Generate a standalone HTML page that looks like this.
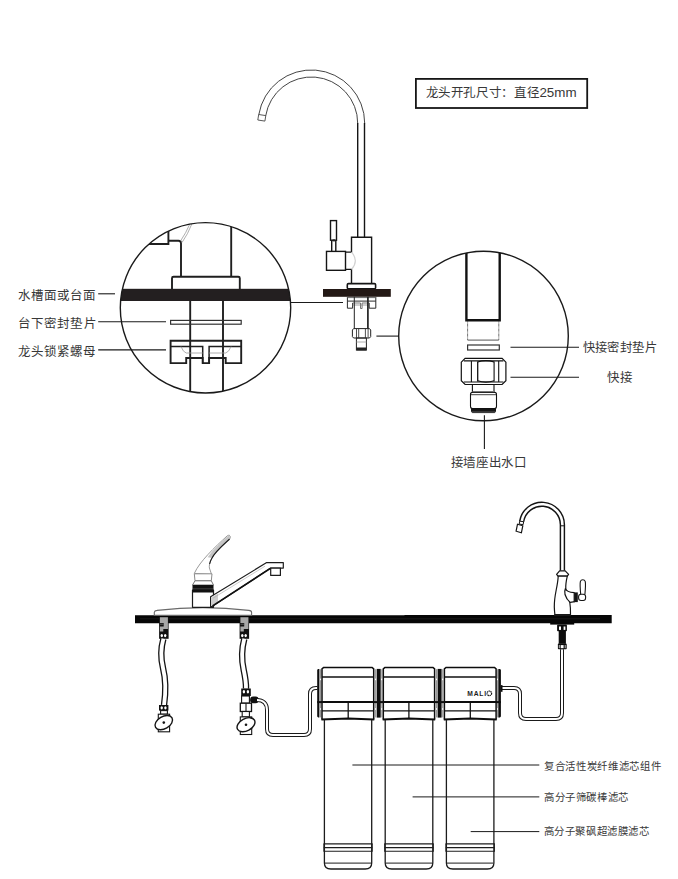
<!DOCTYPE html>
<html lang="zh-CN"><head><meta charset="utf-8">
<style>
html,body{margin:0;padding:0;background:#fff;}
body{width:678px;height:879px;overflow:hidden;position:relative;font-family:"Liberation Sans",sans-serif;}
svg{position:absolute;left:0;top:0;}
.t{font-family:"Liberation Sans",sans-serif;fill:#383838;}
</style></head><body>
<svg width="678" height="879" viewBox="0 0 678 879">
<rect x="0" y="0" width="678" height="879" fill="#fff"/>

<!-- ===== TOP: info box ===== -->
<rect x="415.9" y="78.9" width="171.3" height="29.1" fill="none" stroke="#161616" stroke-width="1.8"/>
<text class="t" x="425.6" y="97.3" font-size="12.5" textLength="114" lengthAdjust="spacing">龙头开孔尺寸：直径</text><text class="t" x="539.4" y="97.1" font-size="13.4">25mm</text>

<!-- ===== TOP: small faucet ===== -->
<g fill="none" stroke="#3a3a3a" stroke-width="0.95">
  <path d="M258.81,114.6 A53.3,53.3 0 0 1 364.7,123.3"/>
  <path d="M265.72,115.74 A46.3,46.3 0 0 1 357.7,123.3"/>
  <path d="M258.7,114.5 L265.8,115.6 L264.9,121.1 L257.8,120 Z" stroke-width="0.85"/>
</g>
<g fill="none" stroke="#151515" stroke-width="1.4">
  <line x1="357.7" y1="123" x2="357.7" y2="237.3"/>
  <line x1="364.5" y1="123" x2="364.5" y2="237.3"/>
  <path d="M345.6,252.1 H351.5 V237.3 H371.6 V283.5 M345.6,269.4 H351.5 V283.5"/>
  <rect x="330.5" y="220.6" width="6" height="19.6"/>
  <line x1="331.7" y1="240.2" x2="331.7" y2="251.4"/>
  <line x1="335.8" y1="240.2" x2="335.8" y2="251.4"/>
  <rect x="326.5" y="251.4" width="19" height="18.9"/>
  <rect x="347.3" y="283.6" width="28.3" height="5.3" rx="1.2" stroke-width="1.6"/>
</g>
<path d="M351.5,252.1 Q359.2,260.8 351.5,269.4" fill="none" stroke="#d2d2d2" stroke-width="1.2"/>
<line x1="332.6" y1="240.4" x2="335" y2="240.4" stroke="#222" stroke-width="2"/>
<rect x="323" y="289" width="67.8" height="7.8" fill="#231815"/>
<!-- below counter -->
<g fill="none" stroke="#2a2a2a" stroke-width="1">
  <path d="M347.4,297 V308.2 H352.6 V303 M375.8,297 V308.2 H369.2 V303"/>
  <line x1="347.4" y1="297.6" x2="375.8" y2="297.6" stroke="#666"/>
  <line x1="347.4" y1="301.1" x2="375.8" y2="301.1"/>
  <path d="M352.6,303 H360.5 V308.5 H362.1 V303 H369.2" stroke="#666" stroke-width="0.9"/>
  <line x1="352.6" y1="305" x2="369.2" y2="305" stroke="#888" stroke-width="0.8"/>
</g>
<g fill="none" stroke="#222" stroke-width="1">
    <line x1="354.3" y1="296.8" x2="354.3" y2="328.6"/>
  <line x1="367.9" y1="296.8" x2="367.9" y2="328.6" stroke-width="1.7"/>
  <path d="M353.6,328.6 H369.5 L370.7,330 V336.6 L369.5,338 H353.6 L352.4,336.6 V330 Z"/>
  <line x1="356.5" y1="328.8" x2="356.5" y2="337.8" stroke-width="0.8"/>
  <line x1="358.7" y1="328.8" x2="358.7" y2="337.8" stroke-width="0.8"/>
  <line x1="365.4" y1="328.8" x2="365.4" y2="337.8" stroke-width="0.8"/>
  <line x1="368.1" y1="328.8" x2="368.1" y2="337.8" stroke-width="0.8"/>
  <rect x="356.4" y="338" width="10" height="12"/>
  <line x1="356.4" y1="342" x2="366.4" y2="342" stroke="#999" stroke-width="0.8"/>
</g>
<rect x="356.4" y="347.5" width="10" height="3" fill="#222"/>

<!-- ===== LEFT CIRCLE ===== -->
<defs>
  <clipPath id="cl"><circle cx="205.5" cy="307.8" r="85.2"/></clipPath>
  <clipPath id="cr"><circle cx="483.5" cy="336" r="84.8"/></clipPath>
</defs>
<g clip-path="url(#cl)">
  <rect x="110" y="288.8" width="190" height="12.2" fill="#231f20"/>
  <g fill="none" stroke="#1f1f1f" stroke-width="1.9">
    <path d="M140,244 H168.4 V220"/>
    <path d="M168.4,240.8 H178.5 Q181,240.8 181,243.3 V276.8"/>
    <line x1="231.2" y1="215" x2="231.2" y2="276.8"/>
    <path d="M172,289 V278.3 Q172,276.8 173.5,276.8 H238.3 Q239.8,276.8 239.8,278.3 V289"/>
    <line x1="190.2" y1="301" x2="190.2" y2="400"/>
    <line x1="223" y1="301" x2="223" y2="400"/>
    <path d="M170.6,340.8 H241.2 V363.1 H225.7 V358 H209.1 V363.1 H202.7 V358 H186.2 V363.1 H170.6 Z"/>
    <path d="M170.6,346.5 H202.7 V363 M209.1,363 V346.5 H241.2" stroke-width="1.5"/>
  </g>
  <rect x="170.6" y="320.4" width="70.6" height="3.8" fill="none" stroke="#333" stroke-width="1.2"/>
  <g fill="none" stroke="#9a9a9a" stroke-width="0.8">
    <path d="M180.5,241 Q186,233 189.8,224"/>
    <path d="M182,242.5 Q188,234 191.8,224"/>
    <path d="M181,346.5 Q183,352 186.2,353 H202.7 M209.1,353 H225.7 Q229,352 231,346.5"/>
  </g>
</g>
<circle cx="205.5" cy="307.8" r="85.2" fill="none" stroke="#1a1a1a" stroke-width="1.4"/>

<!-- ===== RIGHT CIRCLE ===== -->
<g clip-path="url(#cr)">
  <g fill="none" stroke="#111" stroke-width="2.4">
    <path d="M466.4,240 V320.3 H499.7 V240"/>
  </g>
  <g fill="none" stroke="#333" stroke-width="1" stroke-dasharray="0.7 0.55">
    <line x1="467.6" y1="321.5" x2="467.6" y2="340"/>
    <line x1="498.8" y1="321.5" x2="498.8" y2="340"/>
  </g>
  <line x1="467.6" y1="340.1" x2="498.8" y2="340.1" stroke="#444" stroke-width="0.9"/>
  <rect x="467.6" y="345" width="31.7" height="5" fill="none" stroke="#333" stroke-width="1.2"/>
  <g fill="none" stroke="#111" stroke-width="1.1">
    <path d="M465.1,358.4 H502.1 L505.9,362.2 V380.7 L502.1,384.5 H465.1 L461.3,380.7 V362.2 Z" stroke-width="1.2"/>
    <line x1="463.8" y1="360.9" x2="503.4" y2="360.9"/>
    <line x1="463.8" y1="382" x2="503.4" y2="382"/>
    <line x1="471.4" y1="360.9" x2="471.4" y2="382"/>
    <line x1="477.7" y1="361.5" x2="477.7" y2="381.4" stroke-width="1.3"/>
    <line x1="494.1" y1="361.5" x2="494.1" y2="381.4"/>
    <line x1="498.7" y1="360.9" x2="498.7" y2="382"/>
    <path d="M477.7,362 Q485.9,359.3 494.1,362 M477.7,380.8 Q485.9,383.5 494.1,380.8"/>
    <line x1="472.4" y1="384.5" x2="472.4" y2="392"/>
    <line x1="494" y1="384.5" x2="494" y2="392"/>
    <rect x="470.5" y="392.4" width="26" height="16.2" rx="2"/>
    <line x1="471" y1="394.7" x2="496" y2="394.7" stroke-width="0.8"/>
    <path d="M472.2,412.6 L471.4,411.4 H495.6 L494.8,412.6 Z" stroke-width="0.9"/>
  </g>
  <rect x="472.5" y="391" width="22" height="1.2" fill="#777"/>
  <rect x="471" y="408.8" width="25" height="2.4" fill="#151515"/>
</g>
<circle cx="483.5" cy="336" r="84.8" fill="none" stroke="#1a1a1a" stroke-width="1.4"/>

<!-- ===== callout lines top ===== -->
<g stroke="#1a1a1a" stroke-width="1.1">
  <line x1="98.2" y1="293.8" x2="115" y2="293.8"/>
  <line x1="98.2" y1="321.8" x2="166" y2="321.8"/>
  <line x1="98.2" y1="349.9" x2="166" y2="349.9"/>
  <line x1="290.5" y1="302.5" x2="343" y2="302.5"/>
  <line x1="376.4" y1="336.1" x2="398.7" y2="336.1"/>
  <line x1="510.5" y1="347.2" x2="579" y2="347.2"/>
  <line x1="510.5" y1="377.3" x2="579" y2="377.3"/>
  <line x1="484.4" y1="415.2" x2="484.4" y2="449"/>
</g>

<!-- ===== TOP labels ===== -->
<g class="t" font-size="12.5" lengthAdjust="spacing">
  <text x="17.8" y="299.7" textLength="78.6">水槽面或台面</text>
  <text x="17.8" y="327.8" textLength="78.8">台下密封垫片</text>
  <text x="17.8" y="356.2" textLength="78.6">龙头锁紧螺母</text>
  <text x="582.7" y="352.3" font-size="12.3" textLength="73.8">快接密封垫片</text>
  <text x="607" y="382.2" textLength="25.6">快接</text>
  <text x="450.5" y="467.1" textLength="76.6">接墙座出水口</text>
</g>

<!-- BOTTOM_PLACEHOLDER -->
<!-- ===== BOTTOM: counter ===== -->
<path d="M135,615.3 H404 L405,615 H611.7 V623.2 H135 Z" fill="#060606"/>
<line x1="140" y1="618.8" x2="600" y2="618.8" stroke="#4a4a4a" stroke-width="0.5" opacity="0.6"/>

<!-- ===== sink faucet ===== -->
<path d="M154.3,615.3 V612.2 Q154.5,610.6 157,610.4 Q203,604.8 248.8,610.4 Q251.6,610.7 251.6,612.4 V615.3 Z" fill="#fff" stroke="#6a6a6a" stroke-width="1.1"/>
<g stroke="#1c1c1c" stroke-width="1.2" fill="#fff" stroke-linejoin="round">
  <rect x="192.5" y="590" width="21" height="17.3"/>
</g>
<g stroke-linejoin="round">
  <path d="M194.3,573.4 C200,561 214,548 227.6,535.5 Q229.5,534.3 230.3,536.5 Q230.5,538 229.6,539 C222,546 215,552 212,558 C209.5,562.5 209,566 209.4,568 L211.6,574.5 Z" fill="#fff" stroke="#9a9a9a" stroke-width="1"/>
  <path d="M228.6,535.3 Q230.6,535.6 229.6,539 C222,546 215,552 212,558 L207.6,557.2 C213,550 220,543 228.6,535.3 Z" fill="#c4c4c4"/>
  <path d="M229.6,539 C222,546 215,552 212,558 C210.8,560 210,562 209.6,564" fill="none" stroke="#1c1c1c" stroke-width="1.1"/>
  <path d="M196.5,574.8 Q203.5,578.2 210.5,574.8" fill="none" stroke="#a8a8a8" stroke-width="0.9"/>
  <path d="M194.3,573.8 H212 L211.3,580.8 H195 Z" fill="#fff" stroke="#8a8a8a" stroke-width="1"/>
  <path d="M195,580.8 H211.3 L213.5,585 H192.5 Z" fill="#fff" stroke="#777" stroke-width="1"/>
</g>
<rect x="192.5" y="585" width="21" height="7.5" fill="#111"/>
<line x1="193" y1="588.8" x2="213" y2="588.8" stroke="#555" stroke-width="0.7"/>
<g stroke="#1c1c1c" stroke-width="1.2" fill="#fff" stroke-linejoin="round">
  <path d="M210.6,606.6 L210.6,596.7 L266.7,562.6 H283.3 V568.1 H270.5 L212.2,606.6 Z"/>
  <rect x="270.7" y="568.1" width="9.7" height="7.3"/>
</g>
<path d="M211.5,597.5 L218,593.5 L218,602 L211.5,606 Z" fill="#cfcfcf"/>
<line x1="212.5" y1="605.8" x2="270.5" y2="568.3" stroke="#111" stroke-width="1.6"/>
<line x1="213" y1="598.2" x2="265" y2="566.2" stroke="#aaa" stroke-width="0.6"/>

<!-- supply connectors -->
<g>
  <rect x="159.1" y="616.9" width="9.5" height="21.9" fill="#111"/>
  <path d="M159.9,617.3 H167.9 V628.9 H163.3 V631.5 H159.9 V626.6 H163.7 V623 H159.9 Z" fill="#a8a8a8"/>
  <line x1="160" y1="624.2" x2="163.5" y2="624.2" stroke="#aaa" stroke-width="0.5"/>
  <ellipse cx="161.8" cy="635.6" rx="1.2" ry="1.7" fill="#fff"/>
  <ellipse cx="165.2" cy="635.6" rx="1.2" ry="1.7" fill="#fff"/>

  <rect x="239.6" y="616.9" width="9.5" height="21.9" fill="#111"/>
  <path d="M240.4,617.3 H248.4 V628.9 H243.8 V631.5 H240.4 V626.6 H244.2 V623 H240.4 Z" fill="#a8a8a8"/>
  <line x1="240.5" y1="624.2" x2="244" y2="624.2" stroke="#aaa" stroke-width="0.5"/>
  <ellipse cx="242.3" cy="635.6" rx="1.2" ry="1.7" fill="#fff"/>
  <ellipse cx="245.7" cy="635.6" rx="1.2" ry="1.7" fill="#fff"/>
</g>
<!-- hoses -->
<g fill="none" stroke-linecap="butt">
  <path d="M163.4,638.8 C160.2,650 160.6,658 163,668 C165.5,678 166.2,690 164,705.2" stroke="#141414" stroke-width="6.4"/>
  <path d="M163.4,638.8 C160.2,650 160.6,658 163,668 C165.5,678 166.2,690 164,705.2" stroke="#fff" stroke-width="3.8"/>
  <path d="M244.3,638.8 C241.3,650 241.5,660 243.7,670 C245.4,678 246.2,683 246,688.6" stroke="#141414" stroke-width="6.4"/>
  <path d="M244.3,638.8 C241.3,650 241.5,660 243.7,670 C245.4,678 246.2,683 246,688.6" stroke="#fff" stroke-width="3.8"/>
</g>
<!-- lower nuts + valves -->
<rect x="159" y="705" width="9.4" height="5.6" fill="#111"/>
<ellipse cx="161.7" cy="707.8" rx="1.2" ry="1.6" fill="#fff"/>
<ellipse cx="165.4" cy="707.8" rx="1.2" ry="1.6" fill="#fff"/>
<rect x="241.2" y="688.5" width="9.6" height="7.5" fill="#111"/>
<ellipse cx="243.9" cy="691.8" rx="1.2" ry="1.7" fill="#fff"/>
<ellipse cx="247.9" cy="691.8" rx="1.2" ry="1.7" fill="#fff"/>
<g stroke="#141414" stroke-width="1.1" fill="#fff">
  <rect x="160.6" y="710.6" width="6.8" height="3.6"/>
  <rect x="158.3" y="714.2" width="11.3" height="17.6"/>
  <ellipse cx="163.8" cy="722.6" rx="9.5" ry="6.1" transform="rotate(-30 163.8 722.6)" stroke-width="1.4"/>

  <rect x="241.6" y="696" width="7.8" height="7.2"/>
  <rect x="240.3" y="703.2" width="11.2" height="8.3" stroke-width="1.3"/>
  <line x1="246" y1="703.2" x2="246" y2="711.5" stroke-width="1.1"/>
  <rect x="242.2" y="711.5" width="7.2" height="5.4"/>
  <rect x="240.3" y="716.9" width="11.4" height="17.6"/>
  <ellipse cx="246" cy="724.7" rx="9.6" ry="6.1" transform="rotate(-28 246 724.7)" stroke-width="1.4"/>
</g>
<circle cx="163.8" cy="722.6" r="1.3" fill="#141414"/>
<circle cx="246" cy="724.7" r="1.3" fill="#141414"/>
<rect x="250.1" y="696.4" width="8.5" height="6.8" rx="3" fill="#111"/>
<!-- tube left -->
<path d="M257,700 C263,700 267,703.5 267,710 V729 Q267,735 273,735 H304 Q310,735 310,729 V694 Q310,688 316,688 H317.5" fill="none" stroke="#1a1a1a" stroke-width="4"/>
<path d="M257,700 C263,700 267,703.5 267,710 V729 Q267,735 273,735 H304 Q310,735 310,729 V694 Q310,688 316,688 H317.5" fill="none" stroke="#fff" stroke-width="2"/>
<!-- tube right -->
<path d="M500.5,688 H514 Q520,688 520,694 V713 Q520,719 526,719 H556 Q562,719 562,713 V649.2" fill="none" stroke="#1a1a1a" stroke-width="4"/>
<path d="M500.5,688 H514 Q520,688 520,694 V713 Q520,719 526,719 H556 Q562,719 562,713 V649.2" fill="none" stroke="#fff" stroke-width="2"/>

<!-- ===== filter heads ===== -->
<g id="heads">
<path d="M317.2,669.8 L318.2,668.9 H319.4 V717.6 H318.2 L317.2,716.6 Z" fill="#0d0d0d"/>
<rect x="376.7" y="668.9" width="4" height="48.7" fill="#0d0d0d"/>
<rect x="437.6" y="668.9" width="4" height="48.7" fill="#0d0d0d"/>
<path d="M498.3,668.9 H499.9 L500.9,669.8 V716.6 L499.9,717.6 H498.3 Z" fill="#0d0d0d"/>
<rect x="500.8" y="685.1" width="1.7" height="6.7" fill="#0d0d0d"/>
<g fill="none" stroke="#6a6a6a" stroke-width="0.7">
<path d="M320.5,669.2 V678.6 M320.5,680.2 V708.2 M320.5,709.8 V717.4"/>
<path d="M375.6,669.2 V678.6 M375.6,680.2 V708.2 M375.6,709.8 V717.4"/>
<path d="M381.8,669.2 V678.6 M381.8,680.2 V708.2 M381.8,709.8 V717.4"/>
<path d="M436.5,669.2 V678.6 M436.5,680.2 V708.2 M436.5,709.8 V717.4"/>
<path d="M442.7,669.2 V678.6 M442.7,680.2 V708.2 M442.7,709.8 V717.4"/>
<path d="M497.6,669.2 V678.6 M497.6,680.2 V708.2 M497.6,709.8 V717.4"/>
</g>
<g fill="none" stroke="#0d0d0d" stroke-width="1.5">
<path d="M322,719.5 V668.9 L323.6,667.4 H372.09999999999997 L373.7,668.9 V719.5"/>
<path d="M383.3,719.5 V668.9 L384.90000000000003,667.4 H433.0 L434.6,668.9 V719.5"/>
<path d="M444.4,719.5 V668.9 L446.0,667.4 H494.5 L496.1,668.9 V719.5"/>
</g>
<g stroke="#111" stroke-width="1.3">
<line x1="322" y1="677" x2="373.7" y2="677"/>
<line x1="322" y1="710.9" x2="373.7" y2="710.9"/>
<line x1="348.2" y1="702.1" x2="348.2" y2="719"/>
<line x1="383.3" y1="677" x2="434.6" y2="677"/>
<line x1="383.3" y1="710.9" x2="434.6" y2="710.9"/>
<line x1="408.9" y1="702.1" x2="408.9" y2="719"/>
<line x1="444.4" y1="677" x2="496.1" y2="677"/>
<line x1="444.4" y1="710.9" x2="496.1" y2="710.9"/>
<line x1="470.3" y1="702.1" x2="470.3" y2="719"/>
</g>
<g stroke="#0d0d0d" stroke-width="2" fill="none">
<line x1="321.4" y1="702.1" x2="374.3" y2="702.1"/>
<path d="M321.4,719.6 L348.2,718.6 L374.3,719.6"/>
<line x1="382.7" y1="702.1" x2="435.20000000000005" y2="702.1"/>
<path d="M382.7,719.6 L408.9,718.6 L435.20000000000005,719.6"/>
<line x1="443.79999999999995" y1="702.1" x2="496.70000000000005" y2="702.1"/>
<path d="M443.79999999999995,719.6 L470.3,718.6 L496.70000000000005,719.6"/>
<line x1="317.2" y1="702.1" x2="322" y2="702.1"/><line x1="373.7" y1="702.1" x2="383.3" y2="702.1"/><line x1="434.6" y1="702.1" x2="444.4" y2="702.1"/><line x1="496.1" y1="702.1" x2="500.9" y2="702.1"/>
</g>
<text x="467.2" y="695.9" font-family="Liberation Sans, sans-serif" font-weight="bold" font-size="6.7" fill="#1c1c1c" textLength="19" lengthAdjust="spacing">MALI</text>
<circle cx="489.3" cy="693.4" r="2.3" fill="none" stroke="#1c1c1c" stroke-width="1.2" stroke-dasharray="1.3 0.5"/>
</g>

<!-- ===== canisters ===== -->
<g fill="none" stroke="#1c1c1c" stroke-width="1.3">
<path d="M324.4,720 V863 Q324.4,869 330.9,869 H365.2 Q371.7,869 371.7,863 V720"/>
<path d="M385.2,720 V863 Q385.2,869 391.7,869 H426.3 Q432.8,869 432.8,863 V720"/>
<path d="M446.4,720 V863 Q446.4,869 452.9,869 H487.4 Q493.9,869 493.9,863 V720"/>
</g>
<g stroke="#1c1c1c" stroke-width="1.1">
<line x1="323.79999999999995" y1="843.9" x2="372.3" y2="843.9"/>
<line x1="323.79999999999995" y1="847.6" x2="372.3" y2="847.6" stroke-width="1.4"/>
<line x1="323.79999999999995" y1="851.2" x2="372.3" y2="851.2"/>
<line x1="325.0" y1="863.1" x2="371.09999999999997" y2="863.1" stroke-width="1"/>
<line x1="323.9" y1="843.5" x2="323.9" y2="851.6" stroke-width="1"/>
<line x1="372.2" y1="843.5" x2="372.2" y2="851.6" stroke-width="1"/>
<line x1="384.59999999999997" y1="843.9" x2="433.40000000000003" y2="843.9"/>
<line x1="384.59999999999997" y1="847.6" x2="433.40000000000003" y2="847.6" stroke-width="1.4"/>
<line x1="384.59999999999997" y1="851.2" x2="433.40000000000003" y2="851.2"/>
<line x1="385.8" y1="863.1" x2="432.2" y2="863.1" stroke-width="1"/>
<line x1="384.7" y1="843.5" x2="384.7" y2="851.6" stroke-width="1"/>
<line x1="433.3" y1="843.5" x2="433.3" y2="851.6" stroke-width="1"/>
<line x1="445.79999999999995" y1="843.9" x2="494.5" y2="843.9"/>
<line x1="445.79999999999995" y1="847.6" x2="494.5" y2="847.6" stroke-width="1.4"/>
<line x1="445.79999999999995" y1="851.2" x2="494.5" y2="851.2"/>
<line x1="447.0" y1="863.1" x2="493.29999999999995" y2="863.1" stroke-width="1"/>
<line x1="445.9" y1="843.5" x2="445.9" y2="851.6" stroke-width="1"/>
<line x1="494.4" y1="843.5" x2="494.4" y2="851.6" stroke-width="1"/>
</g>

<!-- ===== right faucet ===== -->
<g fill="none" stroke="#141414" stroke-width="1.45">
  <path d="M519.71,521.09 A22.5,22.5 0 0 1 564.4,524.8 V570.8"/>
  <path d="M523.65,521.75 A18.5,18.5 0 0 1 560.4,524.8 V570.8"/>
  <line x1="560.4" y1="525.8" x2="564.4" y2="525.8" stroke-width="1"/>
  <path d="M519.7,521.1 L523.65,521.75 L523.1,524.7 L519.2,524 Z" stroke-width="1"/>
  <path d="M517.5,524.2 L522.8,525.8 L521.4,532.8 L516.1,531.2 Z" stroke-width="1.2"/>
</g>
<g stroke="#141414" stroke-width="1.2" fill="#fff" stroke-linejoin="round">
  <path d="M559.6,570.8 H565.2 L568.6,574.4 L567.3,576.2 H558 L556.6,574.4 Z"/>
  <path d="M558.2,576.2 C558,581 557.2,585 556.2,590 C555,596 554.2,602 554.3,607 C554.4,610 554.6,612.5 554.9,614.7 H570.5 C570.6,610 570.4,606 569.8,602.5 C568.5,598 566.5,594 565.8,589 C565.5,585 566.4,580 567.3,576.2 Z"/>
  <path d="M565.4,588.6 Q566.5,592 574.2,592.6 V602 Q572.5,601.8 570.2,602.4 Q566.5,599.5 565,594.5 Q564.3,591 565.4,588.6 Z"/>
  <path d="M580.7,594.4 C580.1,588 579.9,583.5 580.4,581.4 Q581,579.7 582.8,579.7 Q584.6,579.7 585.2,581.4 C585.8,583.5 585.5,588 584.9,594.4" stroke-width="1.1"/>
  <rect x="578.6" y="594.2" width="7" height="6.3" rx="2.4" stroke-width="1.1"/>
</g>
<rect x="574.2" y="592.4" width="3.6" height="9.7" fill="#141414"/>
<rect x="554" y="614.3" width="17" height="1.8" fill="#1a1a1a"/>
<rect x="550.2" y="622.6" width="24" height="2" fill="#060606"/>
<!-- under counter fittings -->
<rect x="557.1" y="624.6" width="9.8" height="6.6" rx="0.8" fill="#0c0c0c"/>
<rect x="559" y="626.5" width="2" height="3.4" fill="#fff"/>
<rect x="563.6" y="626.5" width="1.8" height="3.4" fill="#fff"/>
<rect x="558.7" y="631" width="7.2" height="12.8" fill="#0c0c0c"/>
<rect x="557.9" y="643.6" width="8.8" height="5.7" rx="0.8" fill="#0c0c0c"/>
<rect x="560.7" y="645.1" width="2.9" height="3.1" fill="#fff"/>
<rect x="558.8" y="645" width="1" height="3.2" fill="#bbb"/>
<rect x="564.7" y="645" width="1" height="3.2" fill="#bbb"/>

<!-- ===== bottom callouts ===== -->
<g stroke="#1a1a1a" stroke-width="1">
  <line x1="352.4" y1="765" x2="539.3" y2="765"/>
  <line x1="412.6" y1="796.9" x2="539.3" y2="796.9"/>
  <line x1="470.7" y1="831.6" x2="539.3" y2="831.6"/>
</g>
<g class="t" font-size="10.4">
  <text x="543.9" y="769.6" textLength="116.8" lengthAdjust="spacing">复合活性炭纤维滤芯组件</text>
  <text x="543.9" y="801" textLength="84.4" lengthAdjust="spacing">高分子筛碳棒滤芯</text>
  <text x="543.9" y="835.2" textLength="104.7" lengthAdjust="spacing">高分子聚砜超滤膜滤芯</text>
</g>

</svg>
</body></html>
